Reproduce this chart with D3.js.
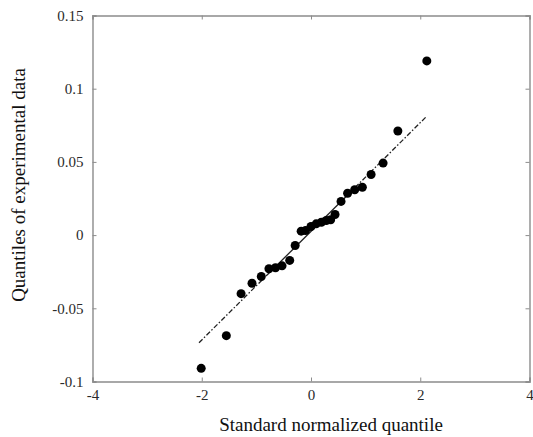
<!DOCTYPE html>
<html>
<head>
<meta charset="utf-8">
<script src="https://cdn.jsdelivr.net/npm/d3@7"></script>
<style>
html,body{margin:0;padding:0;background:#fff;}
svg{display:block;}
</style>
</head>
<body>
<script>
// Data
const theoreticalQ = [-2.01,-1.55,-1.28,-1.08,-0.91,-0.77,-0.65,-0.53,-0.39,-0.29,-0.18,-0.10,0.00,0.095,0.19,0.28,0.36,0.44,0.55,0.67,0.80,0.94,1.10,1.32,1.59,2.12];
const sampleQ = [-0.091,-0.0687,-0.040,-0.0329,-0.0283,-0.023,-0.0223,-0.021,-0.0173,-0.0071,0.0027,0.0031,0.0059,0.0077,0.0088,0.010,0.0105,0.0141,0.023,0.0286,0.031,0.0327,0.0414,0.0492,0.0711,0.119];
// reference line: [start, Q1, Q3, end]
const refX = [-2.05,-0.67,0.67,2.1];
const refY = [-0.0735,-0.0223,0.0274,0.0805];
const xTicks = [-4,-2,0,2,4];
const yTicks = [-0.1,-0.05,0,0.05,0.1,0.15];
const xTickLabels = ["-4","-2","0","2","4"];
const yTickLabels = ["-0.1","-0.05","0","0.05","0.1","0.15"];

const W=533,H=437;
const L=92.5,R=529.5,T=15.5,B=381.5;
const svg=d3.select("body").append("svg").attr("width",W).attr("height",H);
const x=d3.scaleLinear().domain([-4,4]).range([L,R]);
const y=d3.scaleLinear().domain([-0.1,0.15]).range([B,T]);
const axisCol="#8c8c8c";
const font="Liberation Serif, serif";

const gx=svg.append("g").attr("transform",`translate(0,${B})`)
  .call(d3.axisBottom(x).tickValues(xTicks).tickSize(-4).tickPadding(8).tickFormat((d,i)=>xTickLabels[i]));
const gy=svg.append("g").attr("transform",`translate(${L},0)`)
  .call(d3.axisLeft(y).tickValues(yTicks).tickSize(-4).tickPadding(9).tickFormat((d,i)=>yTickLabels[i]));
const gt=svg.append("g").attr("transform",`translate(0,${T})`)
  .call(d3.axisTop(x).tickValues(xTicks).tickSize(-4).tickFormat(""));
const gr=svg.append("g").attr("transform",`translate(${R},0)`)
  .call(d3.axisRight(y).tickValues(yTicks).tickSize(-4).tickFormat(""));
[gx,gy,gt,gr].forEach(g=>{
  g.attr("font-family",font).attr("font-size",15);
  g.select(".domain").attr("stroke",axisCol).attr("stroke-width",1.4);
  g.selectAll(".tick line").attr("stroke",axisCol).attr("stroke-width",1);
  g.selectAll(".tick text").attr("fill","#2a2a2a");
});

const line=d3.line().x(d=>x(d[0])).y(d=>y(d[1]));
const pts=refX.map((v,i)=>[v,refY[i]]);
svg.append("path").attr("d",line([pts[0],pts[1]])).attr("fill","none").attr("stroke","#222").attr("stroke-width",1.3).attr("stroke-dasharray","5,2,1.5,2");
svg.append("path").attr("d",line([pts[1],pts[2]])).attr("fill","none").attr("stroke","#222").attr("stroke-width",1.3);
svg.append("path").attr("d",line([pts[2],pts[3]])).attr("fill","none").attr("stroke","#222").attr("stroke-width",1.3).attr("stroke-dasharray","5,2,1.5,2");

svg.append("g").selectAll("circle").data(theoreticalQ).join("circle")
  .attr("cx",d=>x(d)).attr("cy",(d,i)=>y(sampleQ[i])).attr("r",4.5).attr("fill","#000");

svg.append("text").attr("x",331).attr("y",431).attr("text-anchor","middle")
  .attr("font-family",font).attr("font-size",19).attr("fill","#111").text("Standard normalized quantile");
svg.append("text").attr("transform","translate(25,185) rotate(-90)").attr("text-anchor","middle")
  .attr("font-family",font).attr("font-size",19).attr("fill","#111").text("Quantiles of experimental data");
</script>
</body>
</html>
